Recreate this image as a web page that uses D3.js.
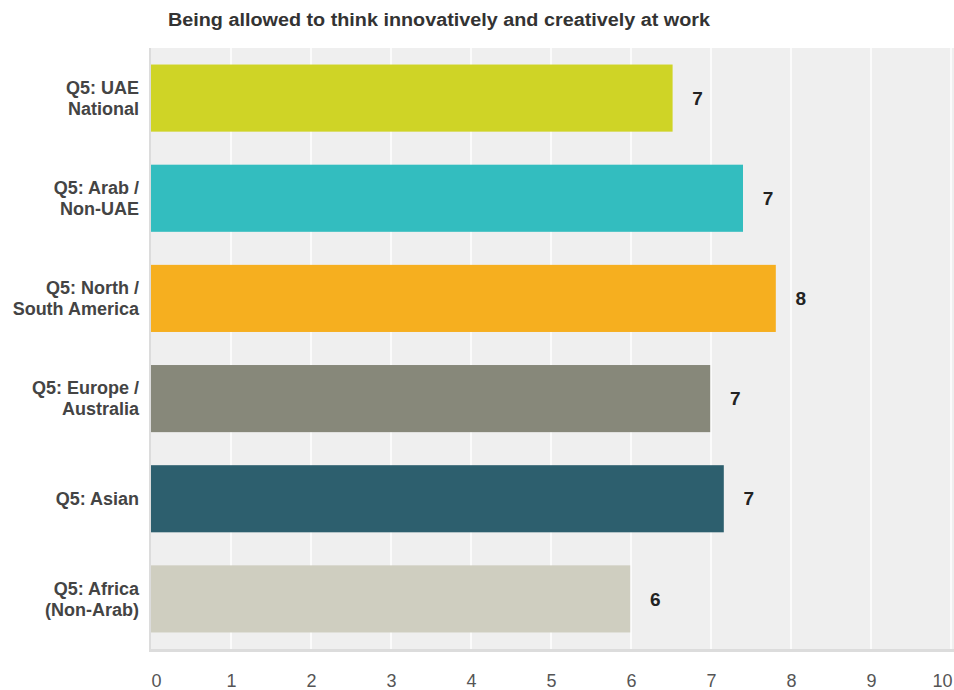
<!DOCTYPE html>
<html>
<head>
<meta charset="utf-8">
<script src="https://cdn.jsdelivr.net/npm/d3@7/dist/d3.min.js"></script>
<style>
  html, body { margin: 0; padding: 0; background: #fff; }
  svg { display: block; font-family: "Liberation Sans", Arial, sans-serif; }
</style>
</head>
<body>
<svg id="chart" width="954" height="690"></svg>
<script>
// Survey results: average rating per respondent group (scale 0–10)
const chartTitle = "Being allowed to think innovatively and creatively at work";
const categories = [
  ["Q5: UAE", "National"],
  ["Q5: Arab /", "Non-UAE"],
  ["Q5: North /", "South America"],
  ["Q5: Europe /", "Australia"],
  ["Q5: Asian"],
  ["Q5: Africa", "(Non-Arab)"]
];
const values = [6.52, 7.40, 7.81, 6.99, 7.16, 5.99];
const colors = ["#CFD426", "#33BDBF", "#F6AF1F", "#87887A", "#2D5F6E", "#CFCEC0"];
const tickValues = [0, 1, 2, 3, 4, 5, 6, 7, 8, 9, 10];

const svg = d3.select("#chart");
const plot = { left: 151, right: 954, top: 48, bottom: 649 };

const x = d3.scaleLinear().domain([0, 10]).range([plot.left, 951]);
const y = d3.scaleBand()
  .domain(d3.range(categories.length))
  .range([plot.top, plot.bottom])
  .paddingInner(0.33)
  .paddingOuter(0.165);

// title
svg.append("text")
  .attr("x", 168).attr("y", 26)
  .attr("font-size", 18).attr("font-weight", "bold")
  .attr("fill", "#333")
  .attr("textLength", 542).attr("lengthAdjust", "spacingAndGlyphs")
  .text(chartTitle);

// plot background with a soft edge on left and bottom
svg.append("rect")
  .attr("x", plot.left - 2).attr("y", plot.top)
  .attr("width", plot.right - plot.left + 2).attr("height", plot.bottom - plot.top + 3)
  .attr("fill", "#dcdcdc");
svg.append("rect")
  .attr("x", plot.left).attr("y", plot.top)
  .attr("width", plot.right - plot.left).attr("height", plot.bottom - plot.top)
  .attr("fill", "#efefef");

// vertical gridlines
svg.append("g")
  .selectAll("line")
  .data(tickValues.filter(d => d > 0))
  .join("line")
  .attr("x1", d => x(d)).attr("x2", d => x(d))
  .attr("y1", plot.top).attr("y2", plot.bottom)
  .attr("stroke", "#fff").attr("stroke-width", 1.5);

// bars
svg.append("g")
  .selectAll("rect")
  .data(values)
  .join("rect")
  .attr("x", x(0))
  .attr("y", (d, i) => y(i))
  .attr("width", d => x(d) - x(0))
  .attr("height", y.bandwidth())
  .attr("fill", (d, i) => colors[i]);

// value labels
svg.append("g")
  .selectAll("text")
  .data(values)
  .join("text")
  .attr("x", d => x(d) + 25)
  .attr("y", (d, i) => y(i) + y.bandwidth() / 2)
  .attr("dy", "0.35em")
  .attr("text-anchor", "middle")
  .attr("font-size", 19).attr("font-weight", "bold")
  .attr("fill", "#222")
  .text(d => Math.round(d));

// category labels
const catG = svg.append("g")
  .selectAll("text")
  .data(categories)
  .join("text")
  .attr("text-anchor", "end")
  .attr("font-size", 18).attr("font-weight", "bold")
  .attr("fill", "#444");
catG.each(function(lines, i) {
  const cy = y(i) + y.bandwidth() / 2;
  const lh = 21;
  const y0 = cy - (lines.length - 1) * lh / 2;
  d3.select(this).selectAll("tspan")
    .data(lines)
    .join("tspan")
    .attr("x", 139)
    .attr("y", (d, j) => y0 + j * lh)
    .attr("dy", "0.35em")
    .text(d => d);
});

// x axis tick labels
const axis = d3.axisBottom(x).tickValues(tickValues).tickSize(0).tickPadding(0);
const axG = svg.append("g").attr("transform", `translate(0, ${plot.bottom + 25})`).call(axis);
axG.select(".domain").remove();
axG.selectAll("text")
  .attr("font-family", "'Liberation Sans', Arial, sans-serif")
  .attr("font-size", 18)
  .attr("fill", "#555")
  .attr("dx", d => d === 0 ? 5 : (d === 10 ? -9 : 0));
</script>
</body>
</html>
